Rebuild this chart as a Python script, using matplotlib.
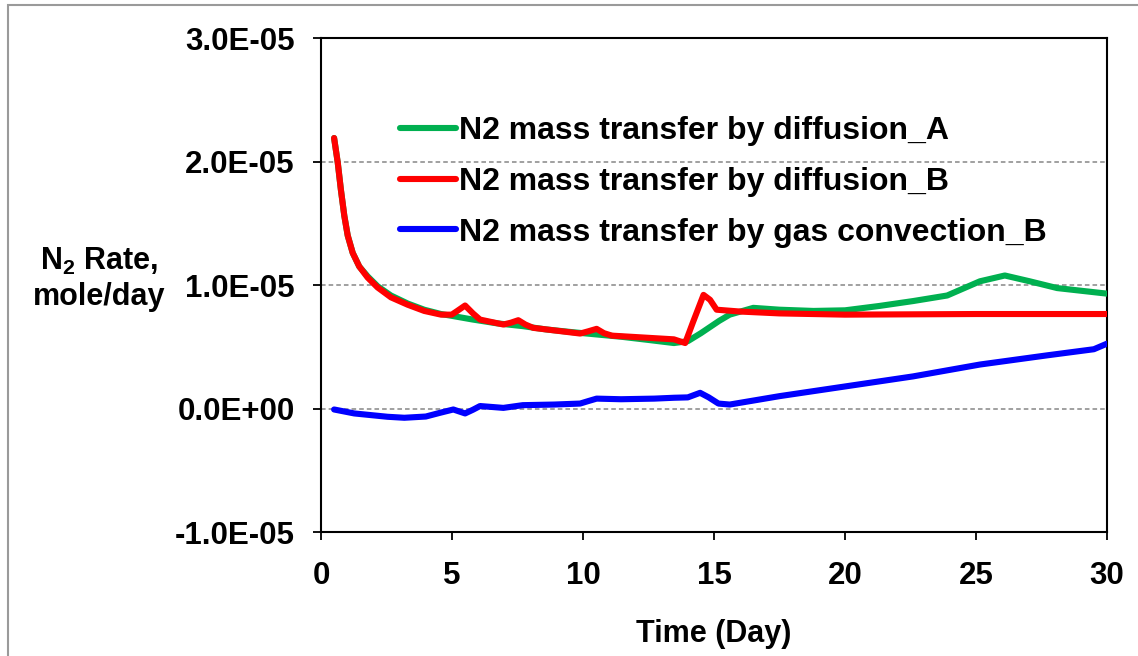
import matplotlib
matplotlib.use("Agg")
import matplotlib.pyplot as plt
from matplotlib.patches import Rectangle
from matplotlib.ticker import FuncFormatter, MultipleLocator
import numpy as np

plt.rcParams['font.family'] = ['Liberation Sans', 'DejaVu Sans']
plt.rcParams['font.weight'] = 'bold'
plt.rcParams['mathtext.fontset'] = 'custom'
plt.rcParams['mathtext.rm'] = 'Liberation Sans:bold'
plt.rcParams['mathtext.bf'] = 'Liberation Sans:bold'
plt.rcParams['mathtext.it'] = 'Liberation Sans:bold'

# ---- data (rates in 1e-5 mole/day) ----
green_days = [0.5, 0.64, 0.76, 0.89, 1.02, 1.21, 1.46, 1.78, 2.16, 2.67, 3.31, 3.94,
              4.58, 5.0, 5.8, 6.7, 7.7, 8.6, 9.6, 10.5, 11.5, 12.5, 13.47, 14.0,
              14.5, 15.2, 15.6, 16.5, 17.5, 18.8, 20.0, 21.3, 22.6, 23.9, 25.15,
              26.1, 27.05, 28.1, 30.0]
green_vals = [2.19, 1.99, 1.77, 1.56, 1.40, 1.26, 1.15, 1.07, 0.99, 0.915, 0.85,
              0.80, 0.765, 0.75, 0.72, 0.69, 0.667, 0.64, 0.618, 0.60, 0.58, 0.555,
              0.53, 0.545, 0.61, 0.71, 0.76, 0.815, 0.80, 0.79, 0.795, 0.83, 0.87,
              0.915, 1.03, 1.077, 1.03, 0.975, 0.93]

red_days = [0.5, 0.64, 0.76, 0.89, 1.02, 1.21, 1.46, 1.78, 2.16, 2.67, 3.31, 3.94,
            4.58, 4.99, 5.2, 5.5, 5.8, 6.07, 6.96, 7.25, 7.53, 7.8, 8.1, 9.89, 10.2,
            10.52, 10.8, 11.1, 13.47, 13.9, 14.2, 14.6, 14.85, 15.1, 16.0, 17.5,
            20.0, 25.0, 30.0]
red_vals = [2.19, 1.99, 1.77, 1.56, 1.40, 1.26, 1.15, 1.06, 0.98, 0.90, 0.84, 0.79,
            0.76, 0.76, 0.79, 0.834, 0.77, 0.72, 0.68, 0.695, 0.715, 0.68, 0.653,
            0.607, 0.625, 0.645, 0.61, 0.59, 0.56, 0.53, 0.70, 0.92, 0.88, 0.80,
            0.785, 0.77, 0.76, 0.765, 0.765]

blue_days = [0.5, 1.27, 2.54, 3.18, 4.0, 4.54, 5.05, 5.5, 5.8, 6.07, 6.96, 7.7,
             8.9, 9.89, 10.2, 10.52, 11.45, 12.72, 13.47, 14.0, 14.47, 14.8, 15.17,
             15.6, 17.5, 20.05, 22.6, 25.15, 27.7, 29.5, 30.0]
blue_vals = [-0.008, -0.04, -0.067, -0.075, -0.065, -0.035, -0.008, -0.04, -0.01,
             0.02, 0.005, 0.027, 0.032, 0.04, 0.06, 0.08, 0.075, 0.08, 0.087, 0.09,
             0.127, 0.09, 0.04, 0.032, 0.10, 0.18, 0.26, 0.356, 0.43, 0.48, 0.525]

labels = ["N2 mass transfer by diffusion_A",
          "N2 mass transfer by diffusion_B",
          "N2 mass transfer by gas convection_B"]
colors = ["#00B050", "#FF0000", "#0000FF"]
scale = 1e-5

W, H = 1138, 656
fig = plt.figure(figsize=(W / 100, H / 100), dpi=100)
ax = fig.add_axes([321 / W, 1 - 532 / H, (1107 - 321) / W, (532 - 38) / H])

for d, v, c, lab in zip([green_days, red_days, blue_days],
                        [green_vals, red_vals, blue_vals], colors, labels):
    ax.plot(d, np.array(v) * scale, color=c, lw=4.4, label=lab,
            solid_joinstyle='round', solid_capstyle='round', zorder=3)

ax.set_xlim(0, 30)
ax.set_ylim(-1e-5, 3e-5)
ax.xaxis.set_major_locator(MultipleLocator(5))
ax.yaxis.set_major_locator(MultipleLocator(1e-5))
ax.yaxis.set_major_formatter(FuncFormatter(lambda v, p: "%.1E" % v))

for g in [0, 1e-5, 2e-5]:
    ax.axhline(g, color='#868686', lw=1.1, ls=(0, (3, 2)), zorder=1)

for s in ax.spines.values():
    s.set_linewidth(1.5)
    s.set_color('black')

ax.tick_params(axis='both', direction='out', length=6, width=1.3, labelsize=22.5)
ax.tick_params(axis='y', pad=13)
ax.tick_params(axis='x', pad=15)
for t in ax.get_xticklabels() + ax.get_yticklabels():
    t.set_fontweight('bold')

fig.text(714 / W, 1 - 634 / H, "Time (Day)", ha='center', va='center',
         fontsize=22, fontweight='bold')
fig.text(99 / W, 1 - 279 / H, "N$_{2}$ Rate,\nmole/day", ha='center', va='center',
         fontsize=22, fontweight='bold', multialignment='center', linespacing=1.2)

leg = ax.legend(loc='upper left', bbox_to_anchor=(400 / W, 1 - 116 / H),
                bbox_transform=fig.transFigure, frameon=False, fontsize=23,
                handlelength=1.75, handletextpad=0.1, labelspacing=0.65,
                borderpad=0, borderaxespad=0)
for t in leg.get_texts():
    t.set_fontweight('bold')

fig.patches.append(Rectangle((8 / W, -0.05), 1.2, 1 - 5 / H + 0.05,
                             transform=fig.transFigure, fill=False,
                             edgecolor='#9a9a9a', lw=1.5, zorder=0))

fig.savefig("out.png", dpi=100)
